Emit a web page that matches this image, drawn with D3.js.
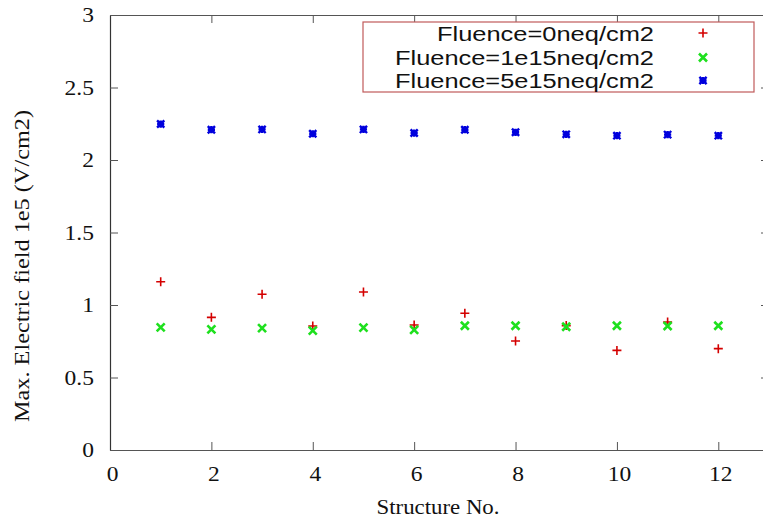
<!DOCTYPE html>
<html>
<head>
<meta charset="utf-8">
<script src="https://cdn.jsdelivr.net/npm/d3@7"></script>
<style>
  html, body { margin: 0; padding: 0; background: #fff; }
  svg { display: block; }
</style>
</head>
<body>
<svg id="chart" width="763" height="520"></svg>
<script>
// Structure numbers and maximum electric field (1e5 V/cm2) per fluence
const structures = [1, 2, 3, 4, 5, 6, 7, 8, 9, 10, 11, 12];
const field0 =    [1.16, 0.915, 1.074, 0.855, 1.09, 0.862, 0.943, 0.752, 0.858, 0.687, 0.883, 0.699];
const field1e15 = [0.846, 0.832, 0.841, 0.823, 0.844, 0.828, 0.857, 0.857, 0.85, 0.857, 0.855, 0.857];
const field5e15 = [2.248, 2.209, 2.211, 2.181, 2.211, 2.186, 2.209, 2.191, 2.177, 2.168, 2.175, 2.168];
const seriesNames = ["Fluence=0neq/cm2", "Fluence=1e15neq/cm2", "Fluence=5e15neq/cm2"];
const xTicks = [0, 2, 4, 6, 8, 10, 12];
const yTicks = [0, 0.5, 1, 1.5, 2, 2.5, 3];

const svg = d3.select("#chart");
const plotLeft = 110, plotRight = 769, plotTop = 15, plotBottom = 450;

const x = d3.scaleLinear().domain([0, 13]).range([plotLeft, plotRight]);
const y = d3.scaleLinear().domain([0, 3]).range([plotBottom, plotTop]);

const tickLen = 8;
const frameColor = "#555";

// Frame with inward ticks on all four sides
const gBottom = svg.append("g").attr("transform", `translate(0,${plotBottom})`)
  .call(d3.axisBottom(x).tickValues(xTicks).tickSizeInner(-tickLen).tickSizeOuter(0).tickFormat(""));
const gTop = svg.append("g").attr("transform", `translate(0,${plotTop})`)
  .call(d3.axisTop(x).tickValues(xTicks).tickSizeInner(-tickLen).tickSizeOuter(0).tickFormat(""));
const gLeft = svg.append("g").attr("transform", `translate(${plotLeft},0)`)
  .call(d3.axisLeft(y).tickValues(yTicks).tickSizeInner(-tickLen).tickSizeOuter(0).tickFormat(""));
const gRight = svg.append("g").attr("transform", `translate(${plotRight},0)`)
  .call(d3.axisRight(y).tickValues(yTicks).tickSizeInner(-tickLen).tickSizeOuter(0).tickFormat(""));
[gBottom, gTop, gLeft, gRight].forEach(g => {
  g.selectAll("path.domain").attr("stroke", frameColor).attr("stroke-width", 1.2);
  g.selectAll(".tick line").attr("stroke", frameColor).attr("stroke-width", 1);
});
gLeft.select("path.domain").attr("stroke", "#333");

// Tick labels (slightly widened serif digits)
const serif = "'Liberation Serif', 'Times New Roman', serif";
const widen = 1.12;
svg.append("g").selectAll("text").data(xTicks).join("text")
  .attr("transform", d => `translate(${x(d) + 2.5},${plotBottom + 31}) scale(${widen},1)`)
  .attr("text-anchor", "middle")
  .attr("font-family", serif).attr("font-size", 21).attr("fill", "#111")
  .text(d => d);
svg.append("g").selectAll("text").data(yTicks).join("text")
  .attr("transform", d => `translate(${plotLeft - 16},${y(d) + 7}) scale(${widen},1)`)
  .attr("text-anchor", "end")
  .attr("font-family", serif).attr("font-size", 21).attr("fill", "#111")
  .text(d => d);

// Axis titles
svg.append("text")
  .attr("x", 438).attr("y", 514)
  .attr("text-anchor", "middle")
  .attr("font-family", serif).attr("font-size", 20).attr("fill", "#111")
  .attr("textLength", 123).attr("lengthAdjust", "spacingAndGlyphs")
  .text("Structure No.");
svg.append("text")
  .attr("transform", `translate(29,266) rotate(-90)`)
  .attr("text-anchor", "middle")
  .attr("font-family", serif).attr("font-size", 21).attr("fill", "#111")
  .attr("textLength", 312).attr("lengthAdjust", "spacingAndGlyphs")
  .text("Max. Electric field 1e5 (V/cm2)");

// Marker shapes
const red = "#d40000", green = "#1ee01e", blue = "#0000dd";
function plus(g, s) {
  g.append("path").attr("d", `M${-s},0H${s}M0,${-s}V${s}`)
    .attr("stroke", red).attr("stroke-width", 1.6).attr("fill", "none");
}
function cross(g, s) {
  g.append("path").attr("d", `M${-s},${-s}L${s},${s}M${-s},${s}L${s},${-s}`)
    .attr("stroke", green).attr("stroke-width", 2.6).attr("fill", "none");
}
function star(g, s) {
  g.append("path").attr("d", `M${-s},${-s}L${s},${s}M${-s},${s}L${s},${-s}M${-s},0H${s}M0,${-s}V${s}`)
    .attr("stroke", blue).attr("stroke-width", 2.4).attr("fill", "none");
}
const drawers = [[field0, plus, 4.5], [field1e15, cross, 4], [field5e15, star, 3.6]];

drawers.forEach(([vals, fn, s]) => {
  svg.append("g").selectAll("g").data(structures.map((n, i) => [n, vals[i]])).join("g")
    .attr("transform", d => `translate(${x(d[0])},${y(d[1])})`)
    .each(function () { fn(d3.select(this), s); });
});

// Legend
const legend = svg.append("g");
legend.append("rect")
  .attr("x", 363).attr("y", 22).attr("width", 391).attr("height", 70)
  .attr("fill", "#fff").attr("stroke", "#c05a5a").attr("stroke-width", 1.2);
const rowsY = [33, 57.5, 80.5];
const legendWidths = [217, 259, 259];
seriesNames.forEach((name, i) => {
  legend.append("text")
    .attr("x", 654).attr("y", rowsY[i] + 7.5)
    .attr("text-anchor", "end")
    .attr("font-family", "'Liberation Sans', Arial, sans-serif").attr("font-size", 20)
    .attr("fill", "#111")
    .attr("textLength", legendWidths[i]).attr("lengthAdjust", "spacingAndGlyphs")
    .text(name);
  const g = legend.append("g").attr("transform", `translate(703,${rowsY[i]})`);
  drawers[i][1](g, drawers[i][2]);
});
</script>
</body>
</html>
